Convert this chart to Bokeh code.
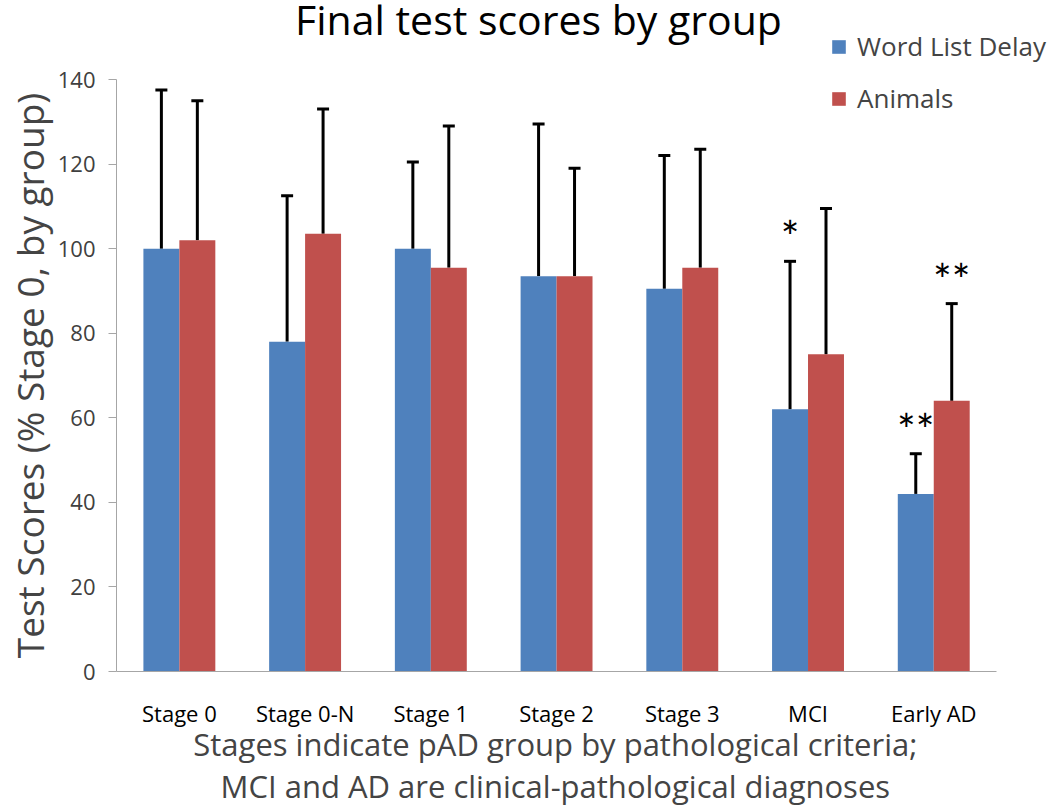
from bokeh.plotting import figure
from bokeh.layouts import column
from bokeh.models import (ColumnDataSource, Range1d, Whisker, TeeHead,
                          Legend, LegendItem, FixedTicker, Label)
from bokeh.transform import dodge
from bokeh.core.properties import value
from bokeh.embed import file_html
from bokeh.resources import INLINE

# ---- data ----
groups = ["Stage 0", "Stage 0-N", "Stage 1", "Stage 2", "Stage 3", "MCI", "Early AD"]
word_list_delay = [100, 78, 100, 93.5, 90.5, 62, 42]
word_list_delay_err = [137.5, 112.5, 120.5, 129.5, 122, 97, 51.5]
animals = [102, 103.5, 95.5, 93.5, 95.5, 75, 64]
animals_err = [135, 133, 129, 119, 123.5, 109.5, 87]
sig_word_list = ["", "", "", "", "", "*", "**"]
sig_animals = ["", "", "", "", "", "", "**"]
y_ticks = [0, 20, 40, 60, 80, 100, 120, 140]
series_names = ["Word List Delay", "Animals"]
title_text = "Final test scores by group"
x_label_lines = ["Stages indicate pAD group by pathological criteria;",
                 "MCI and AD are clinical-pathological diagnoses"]

BLUE = "#4F81BD"
RED = "#C0504D"
FONT = "Open Sans"
LEFT = 114
PAD = "\u00a0" * 7   # keeps the x label centred under the axis rather than the wider frame

# ---------------- header strip: title + first legend entry ----------------
top = figure(width=1050, height=64, x_range=Range1d(0, 1), y_range=Range1d(0, 1),
             x_axis_type=None, y_axis_type=None, title=None,
             output_backend="svg", toolbar_location=None,
             min_border_left=LEFT, min_border_right=0, min_border_top=0, min_border_bottom=0)
top.outline_line_color = None
top.xgrid.visible = False
top.ygrid.visible = False

# legend key only (placed outside the visible range)
key_wld = top.vbar(x=[-5], top=[0], width=0.1, fill_color=BLUE, line_color=None)

top.add_layout(Label(x=422, y=46, x_units="screen", y_units="screen",
                     text=title_text, text_font=FONT, text_font_size="41px",
                     text_align="center", text_baseline="alphabetic", text_color="black"))

leg_top = Legend(items=[LegendItem(label=series_names[0], renderers=[key_wld])],
                 location=(714, 0), padding=0, margin=0, spacing=0,
                 border_line_color=None, background_fill_alpha=0,
                 label_text_font=FONT, label_text_font_size="26px",
                 glyph_width=17, glyph_height=17, label_height=16, label_standoff=10)
top.add_layout(leg_top, "center")

# ---------------- main chart ----------------
xs = list(range(len(groups)))
src = ColumnDataSource(dict(
    x=xs, wld=word_list_delay, wld_err=word_list_delay_err,
    ani=animals, ani_err=animals_err, sw=sig_word_list, sa=sig_animals,
))

p = figure(x_range=Range1d(-0.5, len(groups) - 0.5 + 54 / 126), y_range=Range1d(0, 140),
           title=None, width=1050, height=745, output_backend="svg", toolbar_location=None,
           min_border_left=LEFT, min_border_right=0, min_border_bottom=137,
           min_border_top=15)

off = 0.143
bw = 0.286
r1 = p.vbar(x=dodge("x", -off), top="wld", width=bw, source=src,
            fill_color=BLUE, line_color=None)
r2 = p.vbar(x=dodge("x", off), top="ani", width=bw, source=src,
            fill_color=RED, line_color=None)

for xo, lo, hi in [(-off, "wld", "wld_err"), (off, "ani", "ani_err")]:
    w = Whisker(base=dodge("x", xo), lower=lo, upper=hi, source=src,
                line_color="black", line_width=3, lower_head=None,
                upper_head=TeeHead(size=12, line_color="black", line_width=3))
    p.add_layout(w)

p.text(x=dodge("x", -off), y="wld_err", text="sw", source=src,
       text_align="center", text_baseline="middle", y_offset=-25,
       text_font=value("Lato"), text_font_size="44px", text_color="black")
p.text(x=dodge("x", off), y="ani_err", text="sa", source=src,
       text_align="center", text_baseline="middle", y_offset=-25,
       text_font=value("Lato"), text_font_size="44px", text_color="black")

leg_main = Legend(items=[LegendItem(label=series_names[1], renderers=[r2])],
                  location=(714, 555), padding=0, margin=0, spacing=0,
                  border_line_color=None, background_fill_alpha=0,
                  label_text_font=FONT, label_text_font_size="26px",
                  glyph_width=17, glyph_height=17, label_height=16, label_standoff=10)
p.add_layout(leg_main, "center")

p.xgrid.visible = False
p.ygrid.visible = False
p.outline_line_color = None

p.yaxis.ticker = FixedTicker(ticks=y_ticks)
p.yaxis.minor_tick_line_color = None
p.yaxis.axis_line_color = "#A6A6A6"
p.yaxis.major_tick_line_color = "#A6A6A6"
p.yaxis.major_tick_out = 8
p.yaxis.major_tick_in = 0
p.yaxis.major_label_standoff = 13
p.yaxis.major_label_text_font = FONT
p.yaxis.major_label_text_font_size = "22px"
p.yaxis.major_label_text_color = "#404040"
p.yaxis.axis_label = "Test Scores (% Stage 0, by group)"
p.yaxis.axis_label_text_font = FONT
p.yaxis.axis_label_text_font_size = "37px"
p.yaxis.axis_label_text_font_style = "normal"
p.yaxis.axis_label_standoff = 0

p.xaxis.bounds = (-0.5, len(groups) - 0.5)
p.xaxis.ticker = FixedTicker(ticks=xs)
p.xaxis.major_label_overrides = {i: g for i, g in zip(xs, groups)}
p.xaxis.minor_tick_line_color = None
p.xaxis.axis_line_color = "#A6A6A6"
p.xaxis.major_tick_line_color = None
p.xaxis.major_tick_out = 0
p.xaxis.major_label_standoff = 26
p.xaxis.major_label_text_font = FONT
p.xaxis.major_label_text_font_size = "22px"
p.xaxis.major_label_text_color = "black"
p.xaxis.axis_label = "\n".join(line + PAD for line in x_label_lines)
p.xaxis.axis_label_text_font = FONT
p.xaxis.axis_label_text_font_size = "31px"
p.xaxis.axis_label_text_line_height = 1.0
p.xaxis.axis_label_text_font_style = "normal"
p.xaxis.axis_label_standoff = -8

layout = column(top, p, spacing=0)
open("out.html", "w").write(file_html(layout, INLINE))
